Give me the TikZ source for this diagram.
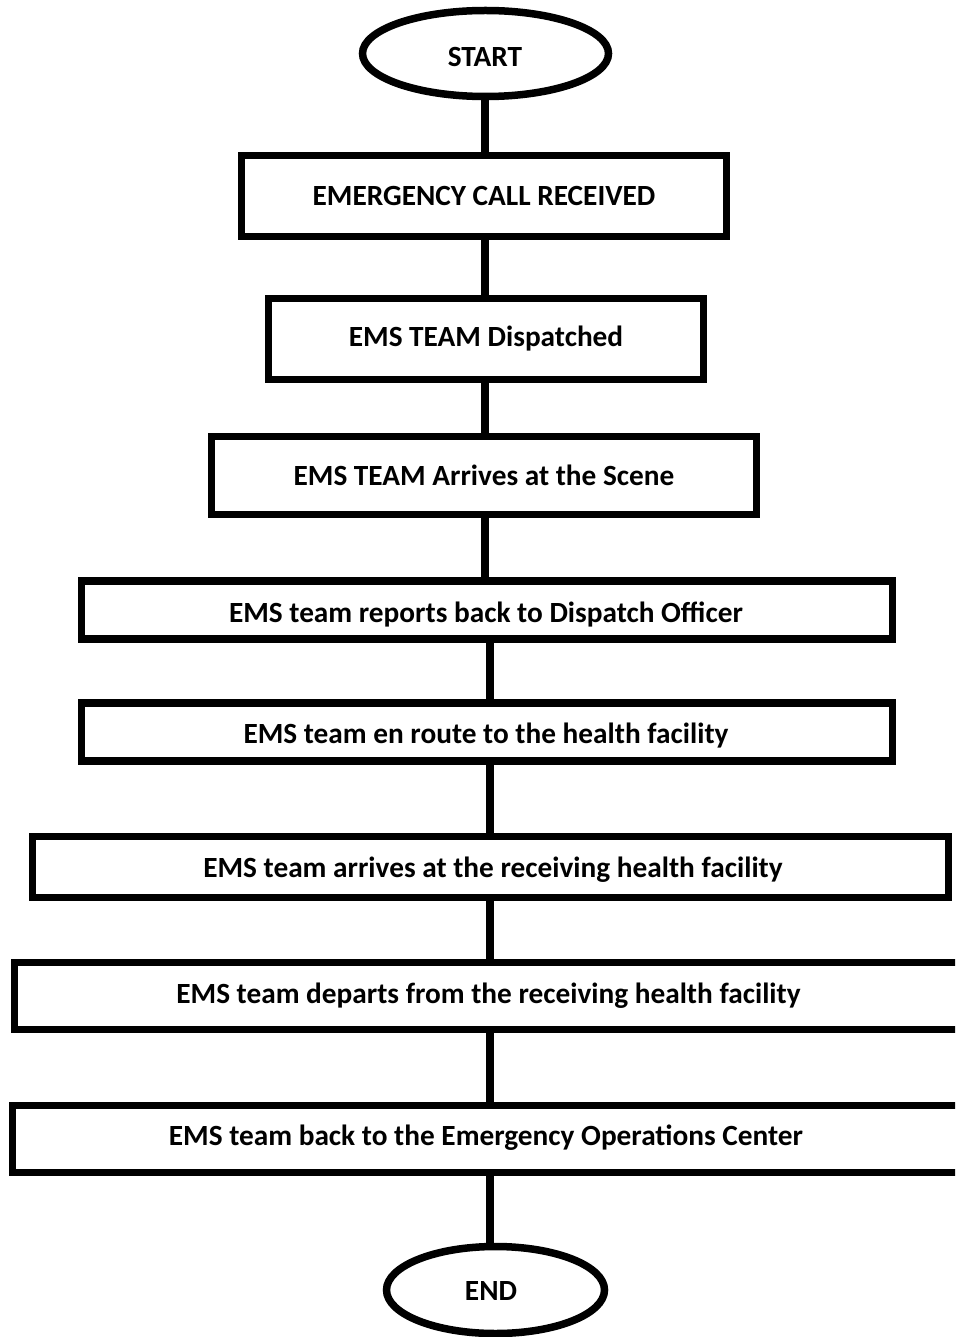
\documentclass[tikz,border=0pt]{standalone}
\usepackage{fontspec}
\setmainfont{Carlito}
\usetikzlibrary{shapes.geometric}
\begin{document}
\begin{tikzpicture}[x=1pt,y=-1pt,
  every node/.style={font=\fontsize{29.3}{34}\selectfont\bfseries},
  stepbox/.style={draw=black,line width=7.5pt,rectangle,inner sep=0pt,anchor=center},
  term/.style={draw=black,line width=7.5pt,ellipse,inner sep=0pt},
  conn/.style={draw=black,line width=8pt}]
\useasboundingbox (0,0) rectangle (955,1337);
\clip (0,0) rectangle (955,1337);
\coordinate (c1) at (485,0);
\coordinate (c2) at (489.5,0);
\node[term,minimum width=246pt,minimum height=86pt] (s) at (485.5,53.5) {};
\node at (485,57) {START};
\node[stepbox,minimum width=485pt,minimum height=81pt] (b1) at (484,196) {EMERGENCY CALL RECEIVED};
\node[stepbox,minimum width=435pt,minimum height=81pt] (b2) at (486,339) {EMS TEAM Dispatched};
\node[stepbox,minimum width=545pt,minimum height=78pt] (b3) at (484,475.5) {EMS TEAM Arrives at the Scene};
\node[stepbox,minimum width=811pt,minimum height=58pt] (b4) at (487,610) {};
\node at (486,614) {EMS team reports back to Dispatch Officer};
\node[stepbox,minimum width=811pt,minimum height=58pt] (b5) at (487,732) {};
\node at (486,736) {EMS team en route to the health facility};
\node[stepbox,minimum width=916pt,minimum height=61pt] (b6) at (490.5,867) {};
\node at (493,870) {EMS team arrives at the receiving health facility};
\node[stepbox,minimum width=948pt,minimum height=67pt] (b7) at (488.5,996) {EMS team departs from the receiving health facility};
\node[stepbox,minimum width=951pt,minimum height=67pt] (b8) at (488,1139) {};
\node at (486,1138) {EMS team back to the Emergency Operations Center};
\node[term,minimum width=218pt,minimum height=87pt] (e) at (495.5,1290) {};
\node at (491,1291) {END};
\draw[conn] (s.south -| c1) -- (b1.north -| c1);
\draw[conn] (b1.south -| c1) -- (b2.north -| c1);
\draw[conn] (b2.south -| c1) -- (b3.north -| c1);
\draw[conn] (b3.south -| c1) -- (b4.north -| c1);
\draw[conn] (b4.south -| c2) -- (b5.north -| c2);
\draw[conn] (b5.south -| c2) -- (b6.north -| c2);
\draw[conn] (b6.south -| c2) -- (b7.north -| c2);
\draw[conn] (b7.south -| c2) -- (b8.north -| c2);
\draw[conn] (b8.south -| c2) -- (e.north -| c2);
\end{tikzpicture}
\end{document}
